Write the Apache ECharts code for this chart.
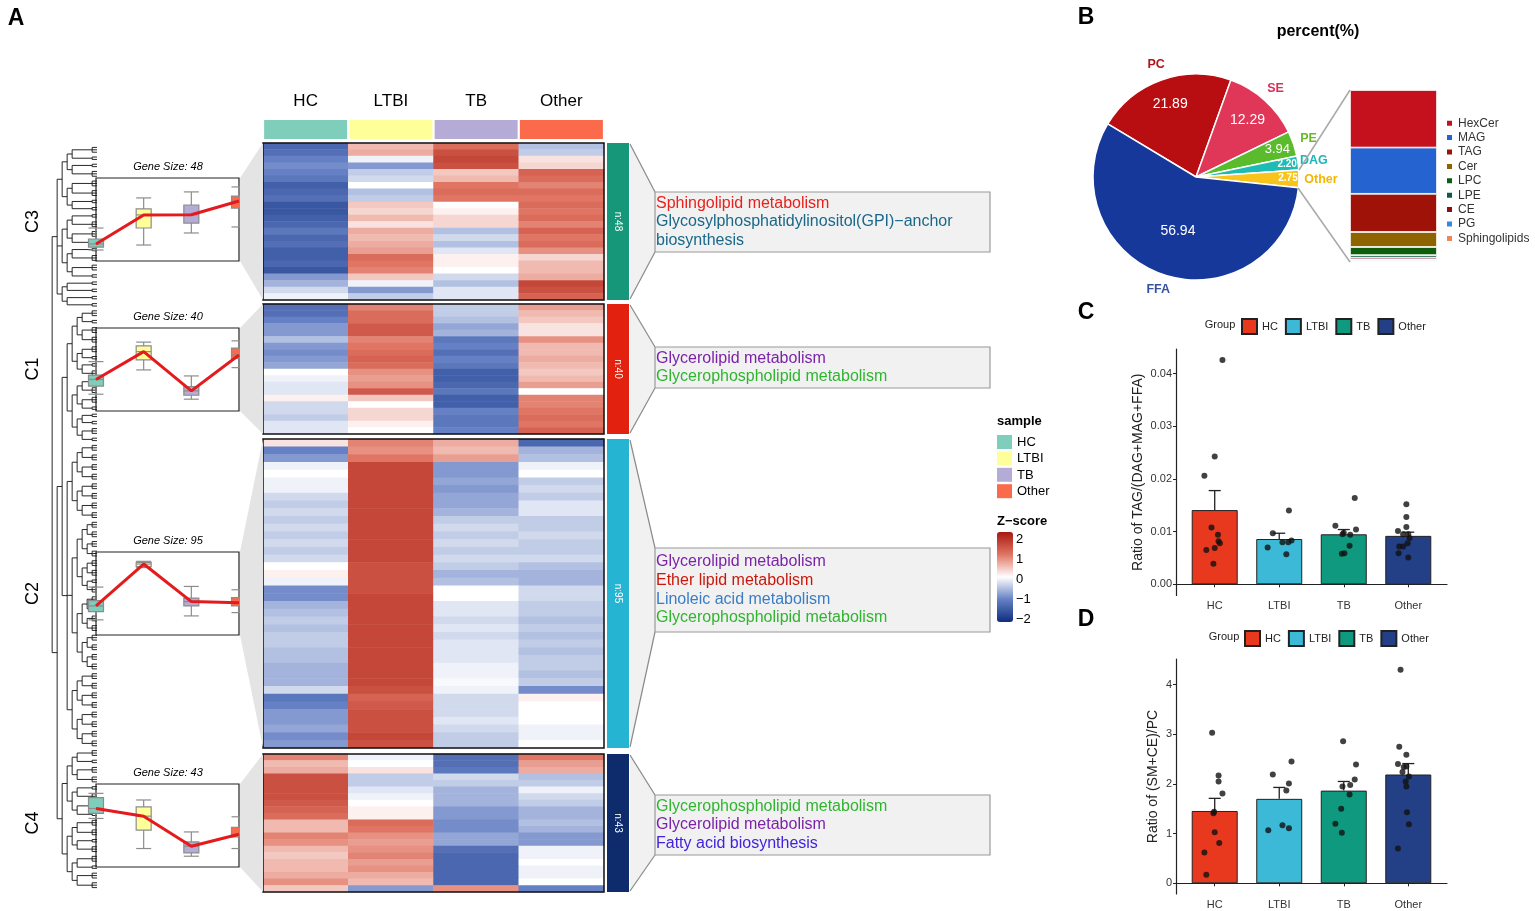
<!DOCTYPE html>
<html><head><meta charset="utf-8">
<script src="https://cdn.jsdelivr.net/npm/echarts@6.0.0/dist/echarts.min.js"></script>
<style>html,body{margin:0;padding:0;background:#fff;}#c{width:1535px;height:911px;}</style>
</head><body><div id="c"></div>
<script>
const FONT = "'Liberation Sans', Arial, Helvetica, sans-serif";
// ---------------- DATA ----------------
const groups = ['HC','LTBI','TB','Other'];
const sampleColors = ['#7fcdbb','#ffff99','#b4acd6','#fb6a4a'];
const clusterNames = ['C3','C1','C2','C4'];
const clusterSizes = [48,40,95,43];
const clusterColors = ['#17977a','#e3210f','#25b5d3','#0e2b6c'];
const zColors = ['#0e2d80','#6580c4','#ffffff','#e07563','#a8180f'];

const heatC3 = [
[-1.3,0.5,1.1,-0.5],[-1.2,0.6,1.4,-0.4],[-1.0,-0.1,1.5,0.2],[-0.9,-0.8,1.4,0.3],
[-1.0,-0.4,0.4,1.2],[-1.1,-0.3,0.5,1.1],[-1.4,0.0,1.0,0.9],[-1.3,-0.5,1.1,1.1],
[-1.2,-0.4,1.0,1.0],[-1.5,0.4,0.0,1.1],[-1.5,0.3,0.1,1.0],[-1.4,0.5,0.3,1.1],
[-1.3,0.2,0.3,0.9],[-1.1,0.6,-0.5,1.2],[-1.3,0.5,-0.3,1.0],[-1.2,0.6,-0.5,1.1],
[-1.4,0.7,-0.2,0.8],[-1.4,1.1,0.1,0.3],[-1.3,1.0,0.1,0.5],[-1.5,0.9,0.0,0.5],
[-0.8,0.4,-0.3,0.6],[-0.6,-0.1,-0.5,1.5],[-0.3,-0.8,-0.2,1.4],[-0.1,-0.4,-0.2,1.2]
];
const heatC1 = [
[-1.2,0.9,-0.4,0.7],[-1.2,1.1,-0.4,0.5],[-1.0,1.1,-0.5,0.4],[-0.8,1.3,-0.7,0.2],
[-0.8,1.3,-0.6,0.2],[-0.5,0.9,-1.1,0.8],[-0.8,1.0,-1.0,0.5],[-0.9,1.1,-1.2,0.5],
[-0.8,1.2,-1.0,0.6],[-0.7,1.1,-1.1,0.5],[0.0,0.8,-1.4,0.4],[-0.1,0.7,-1.4,0.5],
[-0.2,0.8,-1.3,0.7],[-0.2,1.3,-1.1,0.0],[0.1,0.4,-1.4,0.9],[-0.3,0.0,-1.4,0.9],
[-0.3,0.3,-1.0,1.0],[-0.4,0.3,-1.1,1.1],[-0.2,0.1,-1.1,1.0],[-0.2,0.0,-1.0,1.2]
];
const heatC2 = [
[0.2,0.9,0.6,-1.3],[-1.0,0.8,0.5,-0.6],[-0.8,1.0,0.7,-0.5],[-0.1,1.5,-0.8,-0.1],
[0.0,1.5,-0.8,0.0],[-0.1,1.5,-0.7,-0.4],[-0.1,1.5,-0.8,-0.3],[-0.3,1.5,-0.7,-0.4],
[-0.4,1.5,-0.7,-0.2],[-0.3,1.5,-0.6,-0.2],[-0.4,1.5,-0.4,-0.4],[-0.3,1.5,-0.3,-0.4],
[-0.4,1.5,-0.4,-0.3],[-0.3,1.5,-0.3,-0.4],[-0.4,1.5,-0.4,-0.4],[-0.3,1.5,-0.3,-0.3],
[0.0,1.4,-0.4,-0.5],[0.1,1.4,-0.6,-0.6],[-0.1,1.4,-0.5,-0.6],[-0.9,1.4,0.0,-0.3],
[-0.9,1.5,0.0,-0.3],[-0.6,1.5,-0.2,-0.4],[-0.5,1.5,-0.2,-0.4],[-0.4,1.5,-0.3,-0.5],
[-0.5,1.5,-0.2,-0.4],[-0.4,1.5,-0.3,-0.5],[-0.4,1.5,-0.2,-0.4],[-0.5,1.5,-0.2,-0.5],
[-0.5,1.5,-0.2,-0.4],[-0.6,1.5,-0.1,-0.4],[-0.6,1.5,-0.1,-0.5],[-0.6,1.5,-0.05,-0.4],
[-0.3,1.4,-0.1,-0.9],[-1.1,1.2,-0.3,0.1],[-1.0,1.3,-0.3,0.0],[-0.8,1.4,-0.3,0.0],
[-0.8,1.4,-0.2,0.0],[-0.7,1.4,-0.3,-0.1],[-0.9,1.5,-0.4,-0.1],[-0.8,1.4,-0.4,0.0]
];
const heatC4 = [
[0.9,-0.1,-1.2,1.0],[0.5,0.0,-1.2,0.7],[0.6,0.2,-1.1,0.6],[1.4,-0.4,-0.3,-0.5],
[1.4,-0.4,-0.4,-0.4],[1.4,-0.2,-0.6,-0.1],[1.4,-0.1,-0.6,-0.3],[1.3,0.0,-0.6,-0.4],
[1.2,0.1,-0.8,-0.6],[1.1,0.1,-0.8,-0.6],[0.5,1.1,-0.9,-0.5],[0.5,1.0,-0.9,-0.6],
[0.9,0.8,-0.7,-0.8],[0.8,0.7,-0.7,-0.8],[0.5,0.8,-1.2,-0.1],[0.4,0.9,-1.3,-0.1],
[0.5,0.7,-1.3,0.0],[0.5,0.8,-1.3,-0.1],[0.6,0.6,-1.3,-0.1],[0.8,0.5,-1.3,0.0],
[0.4,-0.8,0.8,-1.0]
];
// cluster profiles: per group [min, q1, median, q3, max]
const profC3 = [[-1.47,-1.33,-1.18,-0.94,-0.41],[-1.23,-0.41,0.22,0.51,1.04],[-0.65,-0.17,0.23,0.70,1.33],[-0.36,0.55,0.89,1.13,1.57]];
const profC1 = [[-1.19,-0.80,-0.48,-0.27,0.38],[-0.02,0.46,0.86,1.14,1.32],[-1.43,-1.24,-1.03,-0.83,-0.31],[0.09,0.54,0.70,1.03,1.38]];
const profC2 = [[-1.27,-0.87,-0.60,-0.34,0.31],[1.25,1.30,1.42,1.50,1.55],[-1.08,-0.60,-0.39,-0.22,0.34],[-0.92,-0.60,-0.44,-0.20,0.18]];
const profC4 = [[0.34,0.58,0.82,1.34,1.55],[-1.11,-0.22,0.45,0.90,1.23],[-1.48,-1.32,-1.00,-0.79,-0.31],[-1.11,-0.55,-0.42,-0.09,0.42]];
// dendrogram structure (numbers = leaf groups)
const dendroC3 = [[[[3,2],[2,3]],[[3,3],[2,2]]],[[[2,3],[3,2]],[[2,3],[3,2]]],[[2,2],[2,2]]];
const dendroC1 = [[[[3,2],[3,3]],[[3,2],[2,3]]],[[[2,3],[3,2]],[[2,2],[3,2]]]];
const dendroC2 = [[[[3,3],[3,3]],[[3,3],[3,3]]],[[[[3,3],[3,3]],[[3,3],[2,3]]],[[[3,3],[3,3]],[[3,3],[3,3]]]],[[[3,3],[3,3]],[[3,3],[3,3]]]];
const dendroC4 = [[[[3,2],[3,3]],[[2,3],[3,2]]],[[[3,3],[2,3]],[[3,2],[3,3]]]];
// pathway annotations
const pathC3 = [['Sphingolipid metabolism','#e8221c'],['Glycosylphosphatidylinositol(GPI)\u2212anchor','#19688a'],['biosynthesis','#19688a']];
const pathC1 = [['Glycerolipid metabolism','#7b22a8'],['Glycerophospholipid metabolism','#2fb52f']];
const pathC2 = [['Glycerolipid metabolism','#7b22a8'],['Ether lipid metabolism','#c8190c'],['Linoleic acid metabolism','#3b7dc4'],['Glycerophospholipid metabolism','#2fb52f']];
const pathC4 = [['Glycerophospholipid metabolism','#2fb52f'],['Glycerolipid metabolism','#7b22a8'],['Fatty acid biosynthesis','#4422dd']];
// panel B
const pieNames = ['PC','SE','PE','DAG','Other','FFA'];
const pieValues = [21.89,12.29,3.94,2.20,2.75,56.94];
const pieColors = ['#b80e12','#e03657','#5abb2c','#1cbcb4','#f8c41c','#15389a'];
const pieLabelColors = ['#b5121b','#d6315a','#6ab82a','#1fb5b5','#f2b705','#3552a0'];
const otherNames = ['HexCer','MAG','TAG','Cer','LPC','LPE','CE','PG','Sphingolipids'];
const otherValues = [0.92,0.74,0.61,0.24,0.13,0.04,0.03,0.02,0.02];
const otherColors = ['#c5101e','#2563d0','#9e1208','#8e6400','#0d5d0d','#0c5b4d','#8b0d17','#3d85e0','#f3845a'];
// panels C, D
const groupColors = ['#e8391e','#3cb9d7','#0f9a80','#233f86'];
const tagMeans = [0.0141,0.0086,0.0095,0.0092];
const tagUpper = [0.0178,0.0097,0.0104,0.0099];
const tagPoints = [
 [0.0426,0.0243,0.0206,0.0108,0.0094,0.0082,0.0078,0.0069,0.0065,0.0039],
 [0.0140,0.0097,0.0083,0.0080,0.0080,0.0070,0.0057],
 [0.0164,0.0111,0.0104,0.0098,0.0095,0.0094,0.0073,0.0059,0.0058],
 [0.0152,0.0128,0.0109,0.0101,0.0095,0.0095,0.0088,0.0078,0.0072,0.0072,0.0059,0.0051]];
const tagJitter = [
 [0.12,0.00,-0.16,-0.05,0.05,0.06,0.08,0.00,-0.13,-0.02],
 [0.15,-0.10,0.19,0.05,0.14,-0.18,0.11],
 [0.17,-0.13,0.19,0.00,-0.02,0.10,0.09,0.01,-0.03],
 [-0.03,-0.03,-0.03,-0.16,-0.08,0.00,0.02,-0.01,-0.08,-0.14,-0.15,0.00]];
const tagTicks = [0,0.01,0.02,0.03,0.04];
const smMeans = [1.456,1.70,1.866,2.19];
const smUpper = [1.71,1.93,2.05,2.41];
const smPoints = [
 [3.03,2.17,2.05,1.81,1.44,1.41,1.03,0.81,0.62,0.17],
 [2.45,2.19,2.01,1.87,1.17,1.11,1.07],
 [2.86,2.39,2.09,1.98,1.95,1.79,1.50,1.20,1.02],
 [4.30,2.75,2.59,2.40,2.34,2.35,2.24,2.15,2.05,1.95,1.43,1.19,0.70]];
const smJitter = [
 [-0.04,0.06,0.06,0.12,-0.01,-0.02,0.00,0.07,-0.16,-0.13],
 [0.19,-0.10,0.15,0.11,0.05,0.15,-0.17],
 [-0.01,0.19,0.17,0.10,-0.02,0.09,-0.04,-0.13,-0.03],
 [-0.12,-0.14,-0.03,-0.16,-0.07,-0.03,-0.09,0.01,-0.04,-0.03,-0.02,0.01,-0.16]];
const smTicks = [0,1,2,3,4];
const zTicks = ['2','1','0','\u22121','\u22122'];

// ---------------- LAYOUT ----------------
const HM_X = 263, HM_W = 341;
const blockY = [[143,300],[304,434],[439,748],[754,892]];
const miniY = [[178,261],[328,411],[552,635],[784,867]];
const boxY = [[192,252],[347,388],[548,632],[795,855]];
const heatList = [heatC3,heatC1,heatC2,heatC4];
const profList = [profC3,profC1,profC2,profC4];
const pathList = [pathC3,pathC1,pathC2,pathC4];
const dendroList = [dendroC3,dendroC1,dendroC2,dendroC4];

const grids=[], xAxes=[], yAxes=[], series=[], graphics=[], legends=[], heatIdx=[];
function addGrid(g){ grids.push(Object.assign({outerBoundsMode:'none',containLabel:false}, g)); return grids.length-1; }
function T(text,x,y,o){ o=o||{}; return {type:'text', x:x, y:y, rotation:o.rot||0, z:o.z||100, silent:true,
  style:{text:text, fill:o.color||'#000', fontSize:o.size||12, fontWeight:o.weight||'normal', fontStyle:o.fs||'normal',
  fontFamily:FONT, align:o.align||'center', verticalAlign:'middle'}}; }

// heatmap blocks
heatList.forEach((h,k)=>{
  const gi = addGrid({left:HM_X, top:blockY[k][0], width:HM_W, height:blockY[k][1]-blockY[k][0]});
  xAxes.push({type:'category', gridIndex:gi, data:groups, show:false});
  yAxes.push({type:'category', gridIndex:gi, data:h.map((_,i)=>String(i)), inverse:true, show:false});
  const data=[]; h.forEach((row,r)=>row.forEach((v,c)=>data.push([c,r,v])));
  heatIdx.push(series.length);
  series.push({type:'heatmap', name:'Z '+clusterNames[k], xAxisIndex:xAxes.length-1, yAxisIndex:yAxes.length-1, data:data, silent:true});
});

// column annotation bar
(function(){
  const gi = addGrid({left:HM_X, top:120, width:HM_W, height:19});
  xAxes.push({type:'category', gridIndex:gi, data:groups, show:false});
  yAxes.push({type:'value', gridIndex:gi, min:0, max:1, show:false});
  series.push({type:'bar', name:'annot', xAxisIndex:xAxes.length-1, yAxisIndex:yAxes.length-1, barWidth:83, silent:true,
    data:groups.map((g,i)=>({value:1, itemStyle:{color:sampleColors[i]}}))});
})();

// mini cluster profiles
function boxRender(params, api){
  const i = api.value(0);
  const c = v => api.coord([i, v]);
  const pMin=c(api.value(1)), pQ1=c(api.value(2)), pMed=c(api.value(3)), pQ3=c(api.value(4)), pMax=c(api.value(5));
  const x=pMin[0], w=15, st={stroke:'#8c8c8c', lineWidth:1.2};
  return {type:'group', children:[
    {type:'line', shape:{x1:x,y1:pMax[1],x2:x,y2:pMin[1]}, style:st},
    {type:'line', shape:{x1:x-w/2,y1:pMax[1],x2:x+w/2,y2:pMax[1]}, style:st},
    {type:'line', shape:{x1:x-w/2,y1:pMin[1],x2:x+w/2,y2:pMin[1]}, style:st},
    {type:'rect', shape:{x:x-w/2,y:pQ3[1],width:w,height:pQ1[1]-pQ3[1]}, style:{fill:sampleColors[params.dataIndex], stroke:'#8c8c8c', lineWidth:1.2}},
    {type:'line', shape:{x1:x-w/2,y1:pMed[1],x2:x+w/2,y2:pMed[1]}, style:st}
  ]};
}
profList.forEach((p,k)=>{
  const gi = addGrid({left:96, top:miniY[k][0], width:143, height:miniY[k][1]-miniY[k][0], show:true, borderColor:'#222', borderWidth:1.2, backgroundColor:'#fff'});
  xAxes.push({type:'category', gridIndex:gi, data:groups, boundaryGap:false, show:false});
  yAxes.push({type:'value', gridIndex:gi, min:-2, max:2, show:false});
  const xi=xAxes.length-1, yi=yAxes.length-1;
  series.push({type:'custom', name:'box '+clusterNames[k], xAxisIndex:xi, yAxisIndex:yi, silent:true, z:3,
    data:p.map((b,i)=>[i].concat(b)), encode:{x:0,y:[1,2,3,4,5]}, renderItem:boxRender});
  series.push({type:'line', name:'median '+clusterNames[k], xAxisIndex:xi, yAxisIndex:yi, silent:true, z:5,
    data:p.map(b=>b[2]), symbol:'none', lineStyle:{color:'#e41a1c', width:3}});
});

// dendrogram (tree series)
function mk(spec){
  if (typeof spec==='number'){ const ch=[]; for(let i=0;i<spec;i++) ch.push({name:''}); return {name:'', children:ch}; }
  return {name:'', children:spec.map(mk)};
}
function height(n){ return (n.children&&n.children.length) ? 1+Math.max.apply(null, n.children.map(height)) : 0; }
function pad(n, target){
  const h = height(n);
  if (h===0) return n;
  if (h===1 && target>1) return {name:'', children:[pad(n, target-1)]};
  return {name:'', children:n.children.map(c=>pad(c, target-1))};
}
const rootRaw = {name:'', children:[mk(dendroList[0]), {name:'', children:[{name:'', children:[mk(dendroList[1]), mk(dendroList[2])]}, mk(dendroList[3])]}]};
const root = pad(rootRaw, height(rootRaw));
series.push({type:'tree', name:'dendro', data:[root], left:52, top:145, width:45, height:745, orient:'LR', layout:'orthogonal',
  edgeShape:'polyline', edgeForkPosition:'3%', symbol:'none', symbolSize:0, label:{show:false}, leaves:{label:{show:false}},
  lineStyle:{color:'#111', width:0.9}, expandAndCollapse:false, initialTreeDepth:-1, roam:false, silent:true, z:1});

// panel B pie
series.push({type:'pie', name:'percent', center:[1196,177], radius:[0,103], startAngle:149, clockwise:true, silent:true,
  avoidLabelOverlap:false, label:{show:false}, labelLine:{show:false}, itemStyle:{borderColor:'#fff', borderWidth:1.5},
  data:pieNames.map((n,i)=>({name:n, value:pieValues[i], itemStyle:{color:pieColors[i]}}))});
function labelPie(r, shown, fmt, styleFn){
  series.push({type:'pie', name:'lbl'+r, center:[1196,177], radius:[0,r], startAngle:149, clockwise:true, silent:true, z:4,
    avoidLabelOverlap:false, labelLine:{show:false}, label:{position:'inside', formatter:fmt, fontFamily:FONT},
    emphasis:{disabled:true},
    data:pieNames.map((n,i)=>({name:n, value:pieValues[i], itemStyle:{color:'rgba(0,0,0,0)', borderWidth:0},
      label:Object.assign({show:shown.indexOf(n)>=0}, styleFn(n,i))}))});
}
const valFmt = p => pieValues[p.dataIndex].toFixed(2);
const valStyle = (n,i)=>({color:'#fff', fontSize:(n==='DAG'||n==='Other')?10:(n==='PE'?13:14), fontWeight:(n==='DAG'||n==='Other')?'bold':'normal'});
labelPie(148, ['PC','SE'], valFmt, valStyle);
labelPie(108, ['FFA'], valFmt, valStyle);
labelPie(166, ['PE'], valFmt, valStyle);
labelPie(178, ['DAG','Other'], valFmt, valStyle);
const nameStyle = (n,i)=>({color:pieLabelColors[i], fontSize:12.5, fontWeight:'bold'});
labelPie(232, ['PC','SE','PE','DAG','FFA'], '{b}', nameStyle);
labelPie(244, ['Other'], '{b}', nameStyle);

// panel B stacked bar
(function(){
  const gi = addGrid({left:1350, top:90, width:87, height:172});
  xAxes.push({type:'category', gridIndex:gi, data:['Other'], show:false});
  yAxes.push({type:'value', gridIndex:gi, min:0, max:otherValues.reduce((a,b)=>a+b,0), show:false});
  for (let i=otherNames.length-1;i>=0;i--){
    series.push({type:'bar', name:otherNames[i], stack:'oth', xAxisIndex:xAxes.length-1, yAxisIndex:yAxes.length-1,
      data:[otherValues[i]], barWidth:'100%', silent:true, itemStyle:{color:otherColors[i], borderColor:'#fff', borderWidth:0.8}});
  }
  legends.push({data:otherNames, orient:'vertical', left:1445, top:117, itemWidth:7, itemHeight:7, itemGap:2, icon:'rect',
    padding:0, selectedMode:false, textStyle:{fontSize:12, color:'#333', fontFamily:FONT, lineHeight:12.4}});
})();

// panels C & D
function errRender(params, api){
  const x=api.value(0); const p0=api.coord([x, api.value(1)]), p1=api.coord([x, api.value(2)]);
  const st={stroke:'#222', lineWidth:1.3};
  return {type:'group', children:[
    {type:'line', shape:{x1:p0[0],y1:p0[1],x2:p1[0],y2:p1[1]}, style:st},
    {type:'line', shape:{x1:p1[0]-6,y1:p1[1],x2:p1[0]+6,y2:p1[1]}, style:st}]};
}
function barPanel(tag, top, height, yMin, yMax, ticks, fmt, means, uppers, points, jitters, yName, nameGap, legTop, legLeft){
  const gi = addGrid({left:1176, top:top, width:271, height:height});
  xAxes.push({type:'value', gridIndex:gi, min:0.4, max:4.6, splitLine:{show:false},
    axisLine:{show:true, lineStyle:{color:'#222', width:1.2}},
    axisTick:{show:true, customValues:[1,2,3,4], length:3, lineStyle:{color:'#222'}},
    axisLabel:{customValues:[1,2,3,4], formatter:v=>groups[Math.round(v)-1], fontSize:11, color:'#333', margin:5, fontFamily:FONT}});
  yAxes.push({type:'value', gridIndex:gi, min:yMin, max:yMax, splitLine:{show:false},
    axisLine:{show:true, lineStyle:{color:'#222', width:1.2}},
    axisTick:{show:true, customValues:ticks, length:3, lineStyle:{color:'#222'}},
    axisLabel:{customValues:ticks, formatter:fmt, fontSize:11, color:'#333', margin:4, fontFamily:FONT},
    name:yName, nameLocation:'middle', nameGap:nameGap, nameRotate:90, nameTextStyle:{fontSize:14, color:'#222', fontFamily:FONT}});
  const xi=xAxes.length-1, yi=yAxes.length-1;
  groups.forEach((g,i)=>{
    series.push({type:'bar', name:g, xAxisIndex:xi, yAxisIndex:yi, barWidth:46, barGap:'-100%', silent:true,
      data:[[i+1, means[i]]], itemStyle:{color:groupColors[i], borderColor:'#222', borderWidth:1}});
  });
  series.push({type:'custom', name:'err'+tag, xAxisIndex:xi, yAxisIndex:yi, silent:true, z:4,
    data:means.map((m,i)=>[i+1, m, uppers[i]]), encode:{x:0,y:[1,2]}, renderItem:errRender});
  const pts=[]; points.forEach((arr,i)=>arr.forEach((v,j)=>pts.push([i+1+jitters[i][j], v])));
  series.push({type:'scatter', name:'pts'+tag, xAxisIndex:xi, yAxisIndex:yi, silent:true, z:5, data:pts,
    symbolSize:6, itemStyle:{color:'#111'}});
  legends.push({data:groups, left:legLeft, top:legTop, itemWidth:15, itemHeight:15, itemGap:7, icon:'rect', padding:0,
    selectedMode:false, textStyle:{fontSize:11, color:'#222', fontFamily:FONT}});
}
barPanel('C', 349, 246.5, -0.00213, 0.0447, tagTicks, v=>v.toFixed(2), tagMeans, tagUpper, tagPoints, tagJitter,
  'Ratio of TAG/(DAG+MAG+FFA)', 31, 318, 1241);
barPanel('D', 659, 235, -0.215, 4.515, smTicks, v=>String(Math.round(v)), smMeans, smUpper, smPoints, smJitter,
  'Ratio of (SM+CE)/PC', 16, 630, 1244);

// ---------------- GRAPHICS ----------------
graphics.push(T('A',16,19,{size:23,weight:'bold'}));
graphics.push(T('B',1086,18,{size:23,weight:'bold'}));
graphics.push(T('C',1086,313,{size:23,weight:'bold'}));
graphics.push(T('D',1086,620,{size:23,weight:'bold'}));
groups.forEach((g,i)=>graphics.push(T(g, HM_X+(i+0.5)*HM_W/4, 101, {size:17})));
clusterNames.forEach((n,k)=>{
  const b0=blockY[k][0], b1=blockY[k][1], mid=(b0+b1)/2;
  const m0=miniY[k][0], m1=miniY[k][1];
  graphics.push(T(n, 33, mid, {size:18, rot:Math.PI/2}));
  graphics.push(T('Gene Size: '+clusterSizes[k], 168, m0-11, {size:11, fs:'italic'}));
  graphics.push({type:'polygon', z:100, silent:true, shape:{points:[[240,m0],[263,b0],[263,b1],[240,m1]]}, style:{fill:'#e4e4e4'}});
  graphics.push({type:'rect', z:60, silent:true, shape:{x:HM_X, y:b0, width:HM_W, height:b1-b0}, style:{fill:'none', stroke:'#111', lineWidth:1.5}});
  graphics.push({type:'rect', z:60, silent:true, shape:{x:607, y:b0, width:22, height:b1-b0}, style:{fill:clusterColors[k]}});
  graphics.push(T('n:'+clusterSizes[k], 618, mid, {size:10, color:'#fff', rot:-Math.PI/2}));
  const x0=655, x1=990, y0=boxY[k][0], y1=boxY[k][1];
  graphics.push({type:'polygon', z:55, silent:true, shape:{points:[[630,b0],[x0,y0],[x0,y1],[630,b1]]}, style:{fill:'#f1f1f1'}});
  graphics.push({type:'line', z:56, silent:true, shape:{x1:630,y1:b0+1,x2:x0,y2:y0}, style:{stroke:'#8a8a8a', lineWidth:1.2}});
  graphics.push({type:'line', z:56, silent:true, shape:{x1:630,y1:b1-1,x2:x0,y2:y1}, style:{stroke:'#8a8a8a', lineWidth:1.2}});
  graphics.push({type:'rect', z:56, silent:true, shape:{x:x0, y:y0, width:x1-x0, height:y1-y0}, style:{fill:'#f1f1f1', stroke:'#9a9a9a', lineWidth:1.2}});
  const lines=pathList[k], lh=18.7, c=(y0+y1)/2;
  lines.forEach((ln,j)=>graphics.push(T(ln[0], 656, c+(j-(lines.length-1)/2)*lh, {size:16, color:ln[1], align:'left', z:110})));
});
// sample legend
graphics.push(T('sample', 997, 421, {size:13, weight:'bold', align:'left'}));
groups.forEach((g,i)=>{
  const y = 435 + i*16.4;
  graphics.push({type:'rect', z:100, silent:true, shape:{x:997, y:y, width:15, height:14}, style:{fill:sampleColors[i]}});
  graphics.push(T(g, 1017, y+7.5, {size:13, align:'left'}));
});
graphics.push(T('Z\u2212score', 997, 521, {size:13, weight:'bold', align:'left'}));
zTicks.forEach((t,i)=>graphics.push(T(t, 1016, 539+i*20, {size:13, align:'left'})));
// panel B extras
graphics.push(T('percent(%)', 1318, 32, {size:16, weight:'bold'}));
graphics.push({type:'line', z:100, silent:true, shape:{x1:1299,y1:170,x2:1350,y2:90}, style:{stroke:'#a8a8a8', lineWidth:1.5}});
graphics.push({type:'line', z:100, silent:true, shape:{x1:1298,y1:188,x2:1350,y2:262}, style:{stroke:'#a8a8a8', lineWidth:1.5}});
graphics.push(T('Group', 1220, 325, {size:11, color:'#222'}));
graphics.push(T('Group', 1224, 637, {size:11, color:'#222'}));

const option = {
  animation:false, backgroundColor:'#fff', textStyle:{fontFamily:FONT},
  grid:grids, xAxis:xAxes, yAxis:yAxes, series:series, legend:legends,
  visualMap:[{type:'continuous', min:-2, max:2, seriesIndex:heatIdx, inRange:{color:zColors}, left:997, top:532,
    itemWidth:16, itemHeight:90, calculable:false, padding:0, hoverLink:false, orient:'vertical'}],
  graphic:{elements:graphics}
};
const chart = echarts.init(document.getElementById('c'));
chart.setOption(option);
</script></body></html>
